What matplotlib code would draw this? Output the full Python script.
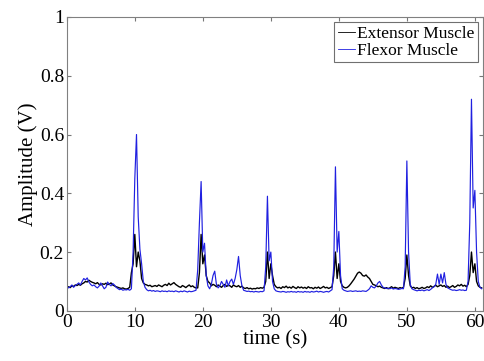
import numpy as np
import matplotlib.pyplot as plt

plt.rcParams['font.family'] = ['Liberation Serif', 'DejaVu Serif']

# time axis, 0.25 s sampling from 0 to 61 s
dt = 0.25
# Extensor muscle amplitude (V), rows of 5 s
extensor = [
    0.08, 0.082, 0.079, 0.085, 0.083, 0.088, 0.086, 0.09, 0.087, 0.092, 0.095, 0.1, 0.098, 0.104, 0.1, 0.097, 0.095, 0.092, 0.096, 0.09,
    0.088, 0.092, 0.09, 0.094, 0.089, 0.091, 0.095, 0.088, 0.085, 0.082, 0.08, 0.078, 0.076, 0.078, 0.075, 0.074, 0.076, 0.08, 0.13, 0.16,
    0.26, 0.15, 0.2, 0.17, 0.11, 0.095, 0.09, 0.088, 0.085, 0.087, 0.082, 0.084, 0.086, 0.083, 0.088, 0.085, 0.082, 0.087, 0.09, 0.086,
    0.094, 0.088, 0.092, 0.096, 0.09, 0.086, 0.082, 0.08, 0.086, 0.083, 0.079, 0.084, 0.088, 0.082, 0.085, 0.08, 0.078, 0.078, 0.13, 0.26,
    0.16, 0.19, 0.12, 0.1, 0.095, 0.085, 0.09, 0.087, 0.082, 0.088, 0.084, 0.08, 0.086, 0.09, 0.083, 0.087, 0.085, 0.08, 0.088, 0.084,
    0.082, 0.086, 0.08, 0.084, 0.078, 0.076, 0.079, 0.075, 0.077, 0.074, 0.076, 0.075, 0.078, 0.076, 0.079, 0.077, 0.08, 0.1, 0.2, 0.11,
    0.16, 0.12, 0.09, 0.082, 0.078, 0.08, 0.076, 0.082, 0.079, 0.084, 0.078, 0.081, 0.077, 0.083, 0.079, 0.076, 0.082, 0.078, 0.081, 0.077,
    0.08, 0.076, 0.082, 0.078, 0.079, 0.075, 0.08, 0.077, 0.081, 0.076, 0.079, 0.083, 0.078, 0.08, 0.076, 0.079, 0.082, 0.12, 0.2, 0.11,
    0.16, 0.1, 0.085, 0.08, 0.078, 0.08, 0.085, 0.092, 0.1, 0.108, 0.118, 0.128, 0.132, 0.128, 0.12, 0.118, 0.122, 0.115, 0.11, 0.1,
    0.09, 0.088, 0.085, 0.082, 0.084, 0.08, 0.078, 0.076, 0.079, 0.075, 0.078, 0.082, 0.077, 0.08, 0.078, 0.076, 0.079, 0.077, 0.08, 0.11,
    0.19, 0.12, 0.085, 0.078, 0.08, 0.076, 0.079, 0.075, 0.077, 0.08, 0.076, 0.078, 0.082, 0.079, 0.085, 0.08, 0.083, 0.087, 0.082, 0.085,
    0.088, 0.083, 0.086, 0.08, 0.084, 0.079, 0.082, 0.086, 0.08, 0.083, 0.088, 0.085, 0.09, 0.084, 0.087, 0.082, 0.09, 0.12, 0.2, 0.13,
    0.16, 0.1, 0.085, 0.08, 0.078,
]
# Flexor muscle amplitude (V)
flexor = [
    0.085, 0.078, 0.082, 0.088, 0.08, 0.086, 0.09, 0.095, 0.088, 0.1, 0.11, 0.105, 0.112, 0.098, 0.09, 0.085, 0.088, 0.082, 0.078, 0.084,
    0.095, 0.085, 0.075, 0.08, 0.098, 0.09, 0.085, 0.093, 0.088, 0.08, 0.076, 0.072, 0.074, 0.07, 0.072, 0.071, 0.073, 0.07, 0.075, 0.2,
    0.45, 0.6, 0.32, 0.21, 0.16, 0.1, 0.08, 0.072, 0.068, 0.07, 0.067, 0.069, 0.066, 0.068, 0.067, 0.065, 0.068, 0.066, 0.067, 0.065,
    0.068, 0.066, 0.067, 0.065, 0.068, 0.066, 0.064, 0.067, 0.065, 0.068, 0.066, 0.064, 0.067, 0.065, 0.066, 0.068, 0.07, 0.14, 0.3, 0.44,
    0.2, 0.23, 0.12, 0.085, 0.075, 0.09, 0.12, 0.135, 0.09, 0.078, 0.085, 0.1, 0.09, 0.08, 0.105, 0.085, 0.1, 0.108, 0.09, 0.11,
    0.14, 0.185, 0.12, 0.085, 0.07, 0.068, 0.066, 0.067, 0.065, 0.066, 0.064, 0.066, 0.065, 0.064, 0.066, 0.065, 0.068, 0.15, 0.39, 0.17,
    0.2, 0.1, 0.075, 0.068, 0.066, 0.065, 0.064, 0.066, 0.065, 0.063, 0.065, 0.064, 0.066, 0.064, 0.065, 0.063, 0.066, 0.064, 0.065, 0.063,
    0.066, 0.064, 0.065, 0.063, 0.066, 0.064, 0.065, 0.067, 0.064, 0.066, 0.065, 0.063, 0.065, 0.066, 0.064, 0.068, 0.072, 0.15, 0.49, 0.2,
    0.27, 0.12, 0.075, 0.07, 0.068, 0.066, 0.067, 0.068, 0.066, 0.067, 0.068, 0.066, 0.067, 0.066, 0.068, 0.067, 0.066, 0.07, 0.075, 0.085,
    0.08, 0.078, 0.085, 0.095, 0.1, 0.088, 0.08, 0.078, 0.076, 0.077, 0.075, 0.078, 0.074, 0.076, 0.075, 0.073, 0.074, 0.076, 0.075, 0.15,
    0.51, 0.2, 0.09, 0.075, 0.072, 0.07, 0.068, 0.07, 0.069, 0.071, 0.068, 0.07, 0.072, 0.069, 0.073, 0.078, 0.082, 0.09, 0.125, 0.09,
    0.125, 0.095, 0.13, 0.09, 0.078, 0.075, 0.072, 0.07, 0.071, 0.069, 0.07, 0.072, 0.07, 0.071, 0.069, 0.07, 0.1, 0.3, 0.72, 0.35,
    0.41, 0.2, 0.1, 0.08, 0.075,
]
t = np.arange(len(extensor)) * dt

fig = plt.figure(figsize=(4.84, 3.61), dpi=100)
ax = fig.add_axes([0.138, 0.139, 0.86, 0.814])

ax.plot(t, extensor, color='black', lw=1.0, label='Extensor Muscle')
ax.plot(t, flexor, color='#2020e0', lw=0.85, label='Flexor Muscle')

ax.set_xlim(0, 61.2)
ax.set_ylim(0, 1)
ax.set_xticks([0, 10, 20, 30, 40, 50, 60])
ax.set_yticks([0, 0.2, 0.4, 0.6, 0.8, 1])
ax.set_yticklabels(['0', '0.2', '0.4', '0.6', '0.8', '1'])
ax.tick_params(direction='in', top=True, right=True, labelsize=14,
               length=3, color='#777777', pad=2)
for s in ax.spines.values():
    s.set_color('#808080')
    s.set_linewidth(0.8)

ax.set_xlabel('time (s)', fontsize=15, labelpad=0)
ax.set_ylabel('Amplitude (V)', fontsize=15, labelpad=1)

leg = ax.legend(loc='upper right', fontsize=12.5, handlelength=1.0,
                handletextpad=0.1, borderpad=0.2, labelspacing=0.05,
                borderaxespad=0.3, fancybox=False, framealpha=1)
leg.get_frame().set_edgecolor('#707070')
leg.get_frame().set_linewidth(0.8)
for h in leg.get_lines():
    h.set_linewidth(0.6)

fig.savefig('out.png', dpi=100)
